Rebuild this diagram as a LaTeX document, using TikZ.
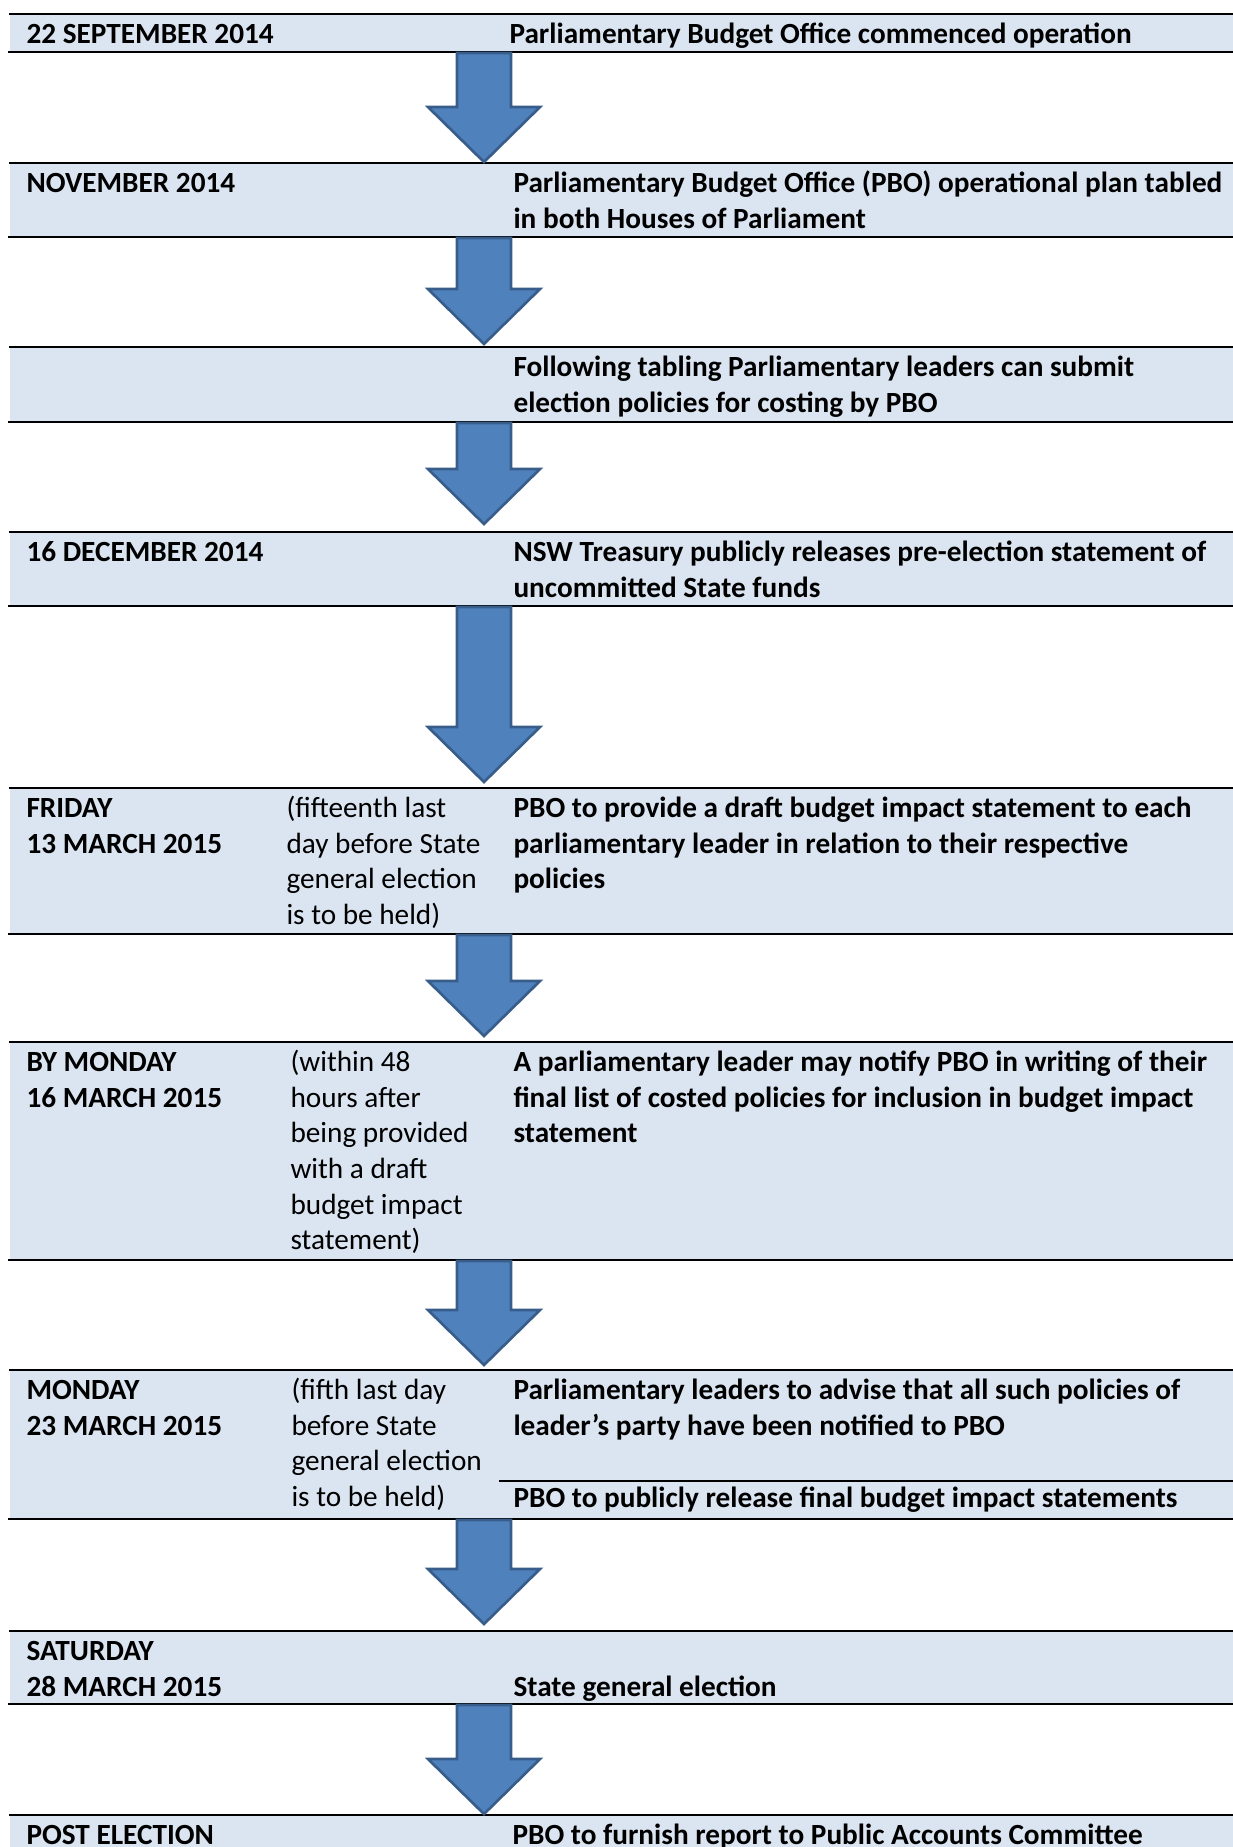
\documentclass[tikz,border=0pt]{standalone}
\usepackage{fontspec}
\setmainfont{Carlito}
\usetikzlibrary{calc}
\definecolor{rowblue}{HTML}{DBE5F1}
\definecolor{arrowblue}{HTML}{4F81BD}
\definecolor{arrowedge}{HTML}{385D8A}
\newcommand{\cellfont}{\fontsize{11pt}{13.4pt}\selectfont}
% block arrow from a row bottom (#2) down to the next row top (#3), #1 = gap
\newcommand{\pboarrow}[3][5]{%
  \draw[blockarrow] ($(#2)+(-27,1)$) -- ($(#3)+(-27,-#1-55)$)
    -- ($(#3)+(-56,-#1-55)$) -- ($(#3)+(0,-#1)$) -- ($(#3)+(56,-#1-55)$)
    -- ($(#3)+(27,-#1-55)$) -- ($(#2)+(27,1)$) -- cycle;}
\tikzset{
  rowfill/.style = {fill=rowblue},
  rowrule/.style = {line width=1.1pt, black},
  datecell/.style = {anchor=north west, inner sep=0pt, align=left,
    font=\cellfont\bfseries},
  eventcell/.style = {datecell},
  notecell/.style = {anchor=north west, inner sep=0pt, align=left,
    font=\cellfont},
  blockarrow/.style = {fill=arrowblue, draw=arrowedge, line width=1pt,
    line join=miter}
}
\begin{document}
\begin{tikzpicture}[x=0.376pt, y=-0.376pt]
  \useasboundingbox (0,0) rectangle (1233,1847);
  \clip (0,0) rectangle (1233,1847);
  % row bands
  \fill[rowfill] (10,14) rectangle (1233,52);
  \fill[rowfill] (10,163) rectangle (1233,237);
  \fill[rowfill] (10,347) rectangle (1233,422);
  \fill[rowfill] (10,532) rectangle (1233,606);
  \fill[rowfill] (10,788) rectangle (1233,934);
  \fill[rowfill] (10,1042) rectangle (1233,1260);
  \fill[rowfill] (10,1370) rectangle (1233,1519);
  \fill[rowfill] (10,1631) rectangle (1233,1704);
  \fill[rowfill] (10,1815) rectangle (1233,1860);
  % rules
  \draw[rowrule] (9,14) -- (1233,14);   \draw[rowrule] (8,52) -- (1233,52);
  \draw[rowrule] (9,163) -- (1233,163); \draw[rowrule] (8,237) -- (1233,237);
  \draw[rowrule] (9,347) -- (1233,347); \draw[rowrule] (8,422) -- (1233,422);
  \draw[rowrule] (9,532) -- (1233,532); \draw[rowrule] (8,606) -- (1233,606);
  \draw[rowrule] (9,788) -- (1233,788); \draw[rowrule] (8,934) -- (1233,934);
  \draw[rowrule] (9,1042) -- (1233,1042); \draw[rowrule] (8,1260) -- (1233,1260);
  \draw[rowrule] (9,1370) -- (1233,1370); \draw[rowrule] (8,1519) -- (1233,1519);
  \draw[rowrule] (499,1481) -- (1233,1481);
  \draw[rowrule] (9,1631) -- (1233,1631); \draw[rowrule] (8,1704) -- (1233,1704);
  \draw[rowrule] (9,1815) -- (1233,1815);
  % arrow ends on the axis
  \coordinate (b1) at (484,52);   \coordinate (t2) at (484,163);
  \coordinate (b2) at (484,237);  \coordinate (t3) at (484,347);
  \coordinate (b3) at (484,422);  \coordinate (t4) at (484,532);
  \coordinate (b4) at (484,606);  \coordinate (t5) at (484,788);
  \coordinate (b5) at (484,934);  \coordinate (t6) at (484,1042);
  \coordinate (b6) at (484,1260); \coordinate (t7) at (484,1370);
  \coordinate (b7) at (484,1519); \coordinate (t8) at (484,1631);
  \coordinate (b8) at (484,1704); \coordinate (t9) at (484,1815);
  \pboarrow[1]{b1}{t2}
  \pboarrow[3]{b2}{t3}
  \pboarrow[8]{b3}{t4}
  \pboarrow[6]{b4}{t5}
  \pboarrow[6]{b5}{t6}
  \pboarrow[5]{b6}{t7}
  \pboarrow[7]{b7}{t8}
  \pboarrow[1]{b8}{t9}
  % dates
  \node[datecell] (d1) at (26,18) {\strut 22 SEPTEMBER 2014};
  \node[datecell] (d2) at (26,167) {\strut NOVEMBER 2014};
  \node[datecell] (d4) at (26,536) {\strut 16 DECEMBER 2014};
  \node[datecell] (d5) at (26,792) {\strut FRIDAY\\13 MARCH 2015};
  \node[datecell] (d6) at (26,1046) {\strut BY MONDAY\\16 MARCH 2015};
  \node[datecell] (d7) at (26,1374) {\strut MONDAY\\23 MARCH 2015};
  \node[datecell] (d8) at (26,1635) {\strut SATURDAY\\28 MARCH 2015};
  \node[datecell] (d9) at (26,1819) {\strut POST ELECTION};
  % notes
  \node[notecell] (n5) at (286,792) {\strut(fifteenth last\\day before State\\general election\\is to be held)};
  \node[notecell] (n6) at (290,1046) {\strut(within 48\\hours after\\being provided\\with a draft\\budget impact\\statement)};
  \node[notecell] (n7) at (291,1374) {\strut(fifth last day\\before State\\general election\\is to be held)};
  % events
  \node[eventcell] (e1) at (509,18) {\strut Parliamentary Budget Office commenced operation};
  \node[eventcell] (e2) at (513,167) {\strut Parliamentary Budget Office (PBO) operational plan tabled\\in both Houses of Parliament};
  \node[eventcell] (e3) at (513,351) {\strut Following tabling Parliamentary leaders can submit\\election policies for costing by PBO};
  \node[eventcell] (e4) at (513,536) {\strut NSW Treasury publicly releases pre-election statement of\\uncommitted State funds};
  \node[eventcell] (e5) at (513,792) {\strut PBO to provide a draft budget impact statement to each\\parliamentary leader in relation to their respective\\policies};
  \node[eventcell] (e6) at (513,1046) {\strut A parliamentary leader may notify PBO in writing of their\\final list of costed policies for inclusion in budget impact\\statement};
  \node[eventcell] (e7) at (513,1374) {\strut Parliamentary leaders to advise that all such policies of\\leader's party have been notified to PBO};
  \node[eventcell] (e7b) at (513,1482) {\strut PBO to publicly release final budget impact statements};
  \node[eventcell] (e8) at (513,1671) {\strut State general election};
  \node[eventcell] (e9) at (512,1819) {\strut PBO to furnish report to Public Accounts Committee};
\end{tikzpicture}
\end{document}
